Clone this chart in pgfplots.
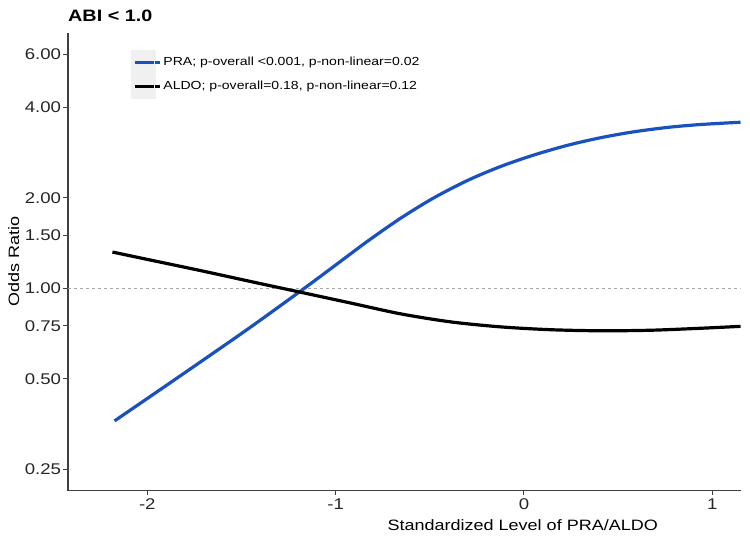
\documentclass[border=0pt]{standalone}
\usepackage{pgfplots}
\pgfplotsset{compat=1.18}
\usepackage{fontspec}
\setmainfont{Liberation Sans}[FakeStretch=1.2]
\definecolor{prablue}{RGB}{25,82,190}
\definecolor{keygray}{RGB}{240,240,240}
\begin{document}
\begin{tikzpicture}[x=1bp,y=1bp]
\useasboundingbox (0,0) rectangle (750,-538);
\begin{axis}[
  at={(68bp,-490.7bp)}, anchor=south west,
  width=672.7bp, height=457.7bp, scale only axis,
  xmin=-2.421, xmax=1.151,
  ymode=log, ymin=0.212, ymax=7.07,
  axis x line*=bottom, axis y line*=left,
  axis line style={-, black!75, line width=1.3bp},
  xtick={-2,-1,0,1}, xticklabels={-2,-1,0,1},
  ytick={0.25,0.5,0.75,1,1.5,2,4,6},
  yticklabels={0.25,0.50,0.75,1.00,1.50,2.00,4.00,6.00},
  minor tick num=0,
  tick align=outside, major tick length=4.5bp,
  tick style={black!75, line width=1bp},
  ticklabel style={font=\fontsize{15.5bp}{18bp}\selectfont, text=black!85},
  yticklabel style={xshift=1bp},
  /pgf/number format/assume math mode=true,
  xlabel={Standardized Level of PRA/ALDO},
  xlabel style={at={(rel axis cs:0.676,0)}, anchor=base, yshift=-40bp,
    font=\fontsize{15bp}{18bp}\selectfont},
  ylabel={Odds Ratio},
  ylabel style={at={(rel axis cs:-0.0728,0.5)}, anchor=base,
    font=\fontsize{15bp}{18bp}\selectfont},
  title={ABI < 1.0},
  title style={at={(rel axis cs:0,1)}, anchor=base west, yshift=5.6bp,
    inner sep=0pt, font=\fontsize{16.5bp}{20bp}\selectfont\bfseries},
  legend style={at={(rel axis cs:0.0937,0.963)}, anchor=north west,
    draw=none, fill=none, font=\fontsize{11.7bp}{14bp}\selectfont,
    row sep=0bp, inner sep=0pt},
  legend cell align=left,
  legend image code/.code={
    \fill[keygray] (0bp,-10.5bp) rectangle (22bp,10.5bp);
    \path (22bp,0bp) -- (27bp,0bp);
    \draw[#1] (2bp,0bp) -- (21bp,0bp);},
]
\addplot[black!35, dash pattern=on 3bp off 3bp, line width=0.7bp, forget plot]
  coordinates {(-2.421,1) (1.151,1)};
\addplot[prablue, line width=3.2bp, smooth] coordinates {
(-2.174,0.362) (-1.983,0.437) (-1.717,0.569) (-1.451,0.743) (-1.186,0.979)
(-1.009,1.183) (-0.831,1.433) (-0.655,1.710) (-0.480,1.997) (-0.299,2.285)
(-0.124,2.542) (0.051,2.774) (0.231,2.990) (0.407,3.169) (0.582,3.315)
(0.763,3.430) (0.938,3.507) (1.150,3.568)};
\addlegendentry{PRA; p-overall <0.001, p-non-linear=0.02}
\addplot[black, line width=3.2bp, smooth] coordinates {
(-2.185,1.320) (-1.983,1.241) (-1.717,1.145) (-1.451,1.053) (-1.186,0.970)
(-0.920,0.893) (-0.655,0.822) (-0.389,0.773) (-0.124,0.744) (0.141,0.728)
(0.407,0.722) (0.672,0.725) (0.938,0.736) (1.150,0.747)};
\addlegendentry{ALDO; p-overall=0.18, p-non-linear=0.12}
\end{axis}
\end{tikzpicture}
\end{document}
